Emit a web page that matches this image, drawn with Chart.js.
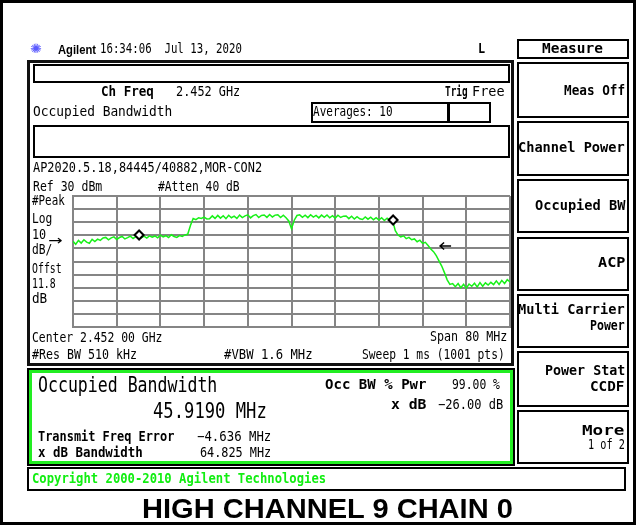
<!DOCTYPE html>
<html>
<head>
<meta charset="utf-8">
<script src="https://cdn.jsdelivr.net/npm/chart.js@4.4.0/dist/chart.umd.min.js"></script>
<style>
  body { margin: 0; background: #fff; }
  #page { position: relative; width: 636px; height: 525px; overflow: hidden; }
  #chart { position: absolute; left: 0; top: 0; }
  .box { position: absolute; box-sizing: border-box; border: 2px solid #000; }
  .lbl { position: absolute; white-space: pre; line-height: 1; font-family: "DejaVu Sans Mono", monospace; color: #000; }
</style>
</head>
<body>
<div id="page">
  <canvas id="chart" width="636" height="525"></canvas>
</div>
<script>
// spectrum analyzer settings
const centerMHz = 2452;
const spanMHz = 80;
const refLevel = 30;     // dBm, top of the grid
const dbPerDiv = 10;

// trace, dBm, one reading every 0.5 MHz from 2412 to 2492 MHz
const traceDbm = [
  -4.6, -6.8, -3.9, -5.9, -3.4, -5.2, -6.1, -3.1, -4.8, -2.9,
  -3.9, -2.1, -1.6, -3.5, -2.0, -1.2, -3.2, -1.7, -0.9, -2.8,
  -1.8, -0.6, -2.4, -1.0, -0.2, -1.9, -0.7, -2.1, -0.4, -1.5,
  -0.5, -1.9, 0.1, -1.2, -0.3, -1.7, 0.4, -0.9, -1.6, -0.2,
  -0.8, 0.3, 0.8, 7.5, 12.8, 12.0, 13.4, 12.8, 13.9, 12.5,
  12.6, 14.8, 12.9, 15.2, 13.1, 14.9, 12.7, 15.3, 13.4, 14.6,
  12.9, 15.4, 13.5, 14.8, 15.6, 13.3, 15.0, 15.8, 13.6, 15.2,
  15.5, 13.7, 15.9, 14.0, 15.4, 15.7, 13.6, 15.3, 13.4, 11.0,
  5.0, 11.5, 15.1, 15.6, 13.8, 15.4, 13.5, 15.7, 13.9, 15.2,
  13.3, 15.4, 13.7, 15.5, 13.4, 15.0, 13.1, 15.3, 13.6, 14.6,
  14.7, 12.7, 14.5, 12.4, 14.2, 12.6, 12.1, 14.0, 12.3, 13.8,
  11.9, 13.5, 11.7, 13.4, 11.3, 13.1, 11.4, 11.5, 3.5, 0.2,
  -1.2, -0.4, -2.5, -1.6, -3.4, -2.8, -4.9, -3.7, -6.2, -5.4,
  -7.8, -10.5, -12.5, -15.5, -19.5, -23.5, -28.5, -34.0, -37.5, -36.9,
  -39.2, -36.8, -40.0, -37.4, -40.3, -37.2, -38.9, -36.6, -39.4, -36.1,
  -38.9, -36.3, -38.0, -35.9, -37.6, -34.8, -37.5, -34.4, -36.8, -33.9,
  -35.6
];

// occupied bandwidth markers
const markerMHz = [2424.1, 2470.6];
const markerDbm = [0.2, 11.7];

// x dB level arrow
const xdbArrowMHz = 2479.2;
const xdbArrowDbm = -8.2;

const page = document.getElementById('page');

function box(x0, y0, x1, y1, style) {
  const d = document.createElement('div');
  d.className = 'box';
  d.style.left = x0 + 'px';
  d.style.top = y0 + 'px';
  d.style.width = (x1 - x0) + 'px';
  d.style.height = (y1 - y0) + 'px';
  if (style) Object.assign(d.style, style);
  page.appendChild(d);
}

// text from x0 to x1, vertically centred on y
function label(s, x0, x1, y, o) {
  o = o || {};
  const d = document.createElement('div');
  d.className = 'lbl';
  d.textContent = s;
  d.style.fontSize = (o.size || 13.5) + 'px';
  if (o.b) d.style.fontWeight = 'bold';
  if (o.color) d.style.color = o.color;
  if (o.font) d.style.fontFamily = o.font;
  page.appendChild(d);
  const sx = (x1 - x0) / d.offsetWidth;
  d.style.left = x0 + 'px';
  d.style.top = y + 'px';
  d.style.transformOrigin = '0 50%';
  d.style.transform = 'translateY(-50%) scale(' + sx + ',' + (o.sy || 1) + ')';
}

// frames
box(0, 0, 636, 525, { border: '3px solid #000' });
box(27, 60, 514, 366, { border: '3px solid #111' });
box(33, 64, 510, 83);
box(311, 102, 491, 123);
box(447, 102, 450, 123, { border: 'none', background: '#000' });
box(33, 125, 510, 158);
box(27, 368, 515, 466);
box(29, 370, 513, 464, { border: '3px solid #22ee22' });
box(27, 467, 626, 491);

const keys = [[39, 59], [62, 118], [121, 176], [179, 233], [237, 291], [294, 348], [351, 407], [410, 464]];
keys.forEach(k => box(517, k[0], 629, k[1]));

// header
label('\u273A', 30, 42, 48, { font: 'DejaVu Sans', color: '#5a5aff', size: 13 });
label('Agilent', 58, 96, 49, { b: 1, font: '"Liberation Sans", Arial', size: 13 });
label('16:34:06  Jul 13, 2020', 100, 242, 48.5);
label('L', 478, 485, 48.5, { b: 1 });

// instrument display
label('Ch Freq', 101, 154, 92, { b: 1 });
label('2.452 GHz', 176, 240, 92);
label('Trig', 445, 468, 92, { b: 1 });
label('Free', 472, 505, 92);
label('Occupied Bandwidth', 33, 172, 111.5);
label('Averages: 10', 313, 393, 111.5);
label('AP2020.5.18,84445/40882,MOR-CON2', 33, 262, 168);
label('Ref 30 dBm', 33, 102, 186.7);
label('#Atten 40 dB', 158, 240, 186.7);
label('#Peak', 32, 65, 201.3);
label('Log', 32, 52, 218.7);
label('10', 32, 46, 235);
label('\u2192', 48, 62, 241, { font: 'DejaVu Sans' });
label('dB/', 32, 52, 250);
label('Offst', 32, 62, 269);
label('11.8', 32, 56, 284);
label('dB', 32, 47, 299);
label('Center 2.452 00 GHz', 32, 162, 338);
label('Span 80 MHz', 430, 507, 336.7);
label('#Res BW 510 kHz', 32, 137, 355);
label('#VBW 1.6 MHz', 224, 313, 355);
label('Sweep 1 ms (1001 pts)', 362, 505, 355);

// result panel
label('Occupied Bandwidth', 38, 217, 385, { size: 22 });
label('45.9190 MHz', 153, 267, 411, { size: 20.5 });
label('Transmit Freq Error', 38, 174, 437, { b: 1 });
label('\u22124.636 MHz', 197, 271, 437);
label('x dB Bandwidth', 38, 143, 453, { b: 1 });
label('64.825 MHz', 200, 271, 453);
label('Occ BW % Pwr', 325, 427, 385, { b: 1 });
label('99.00 %', 452, 500, 385);
label('x dB', 391, 427, 405, { b: 1 });
label('\u221226.00 dB', 438, 503, 405);
label('Copyright 2000-2010 Agilent Technologies', 32, 326, 479, { b: 1, color: '#11ee11' });

// softkeys
label('Measure', 542, 603, 49, { b: 1 });
label('Meas Off', 564, 625, 91, { b: 1 });
label('Channel Power', 518, 625, 147.5, { b: 1 });
label('Occupied BW', 535, 625, 206, { b: 1 });
label('ACP', 598, 625, 263, { b: 1 });
label('Multi Carrier', 518, 625, 310, { b: 1 });
label('Power', 590, 625, 326, { b: 1 });
label('Power Stat', 545, 625, 371, { b: 1 });
label('CCDF', 590, 625, 387, { b: 1 });
label('More', 582, 625, 431, { b: 1 });
label('1 of 2', 588, 625, 445);

// caption
label('HIGH CHANNEL 9 CHAIN 0', 142, 513, 508.5, { b: 1, font: '"Liberation Sans", Arial', size: 27.5 });

// chart
const startMHz = centerMHz - spanMHz / 2;
const stepMHz = spanMHz / (traceDbm.length - 1);
const tracePoints = traceDbm.map((v, i) => ({ x: startMHz + i * stepMHz, y: v }));
const markerPoints = markerMHz.map((f, i) => ({ x: f, y: markerDbm[i] }));

const xdbArrow = {
  id: 'xdbArrow',
  afterDatasetsDraw(chart) {
    const { ctx, scales } = chart;
    const px = scales.x.getPixelForValue(xdbArrowMHz);
    const py = scales.y.getPixelForValue(xdbArrowDbm);
    ctx.save();
    ctx.strokeStyle = '#000';
    ctx.lineWidth = 1.5;
    ctx.beginPath();
    ctx.moveTo(px, py);
    ctx.lineTo(px + 11, py);
    ctx.moveTo(px + 4, py - 3.5);
    ctx.lineTo(px, py);
    ctx.lineTo(px + 4, py + 3.5);
    ctx.stroke();
    ctx.restore();
  }
};

const gridColor = '#858585';

new Chart(document.getElementById('chart'), {
  type: 'line',
  data: {
    datasets: [
      {
        data: markerPoints,
        showLine: false,
        pointStyle: 'rectRot',
        pointRadius: 4.5,
        pointBorderWidth: 2,
        pointBorderColor: '#000',
        pointBackgroundColor: '#fff',
        order: 0,
      },
      {
        data: tracePoints,
        borderColor: '#18f018',
        borderWidth: 1.5,
        pointRadius: 0,
        tension: 0,
        order: 1,
      },
    ],
  },
  options: {
    responsive: false,
    animation: false,
    layout: { padding: { left: 73, top: 196, right: 126, bottom: 198 } },
    plugins: { legend: { display: false }, tooltip: { enabled: false } },
    scales: {
      x: {
        type: 'linear',
        min: startMHz,
        max: startMHz + spanMHz,
        ticks: { display: false, stepSize: spanMHz / 10 },
        grid: { color: gridColor, lineWidth: 2, drawTicks: false },
        border: { color: gridColor, width: 2 },
      },
      y: {
        min: refLevel - 10 * dbPerDiv,
        max: refLevel,
        ticks: { display: false, stepSize: dbPerDiv },
        grid: { color: gridColor, lineWidth: 2, drawTicks: false },
        border: { color: gridColor, width: 2 },
      },
    },
  },
  plugins: [xdbArrow],
});
</script>
</body>
</html>
